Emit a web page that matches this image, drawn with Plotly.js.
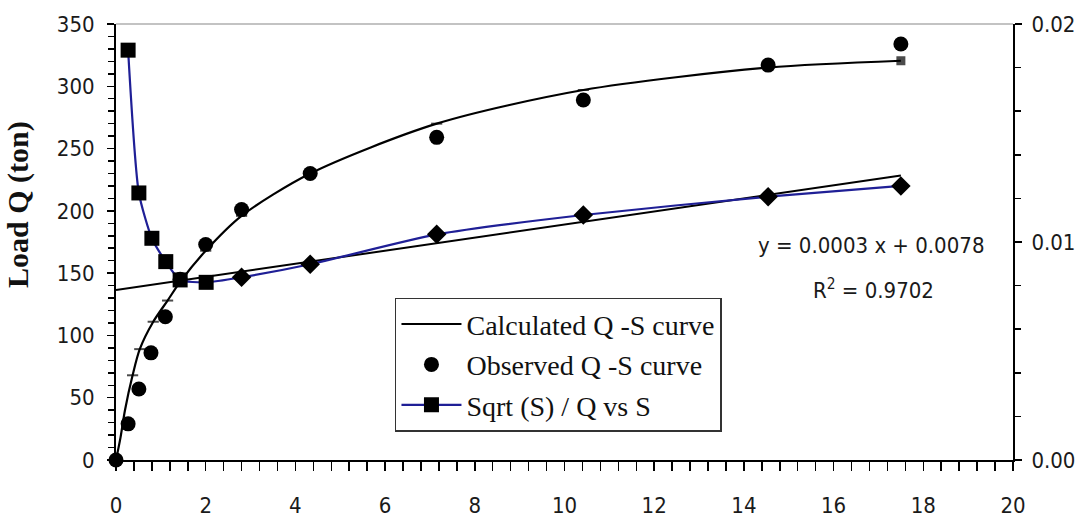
<!DOCTYPE html>
<html>
<head>
<meta charset="utf-8">
<script src="https://cdn.plot.ly/plotly-3.0.1.min.js"></script>
<style>
  html, body { margin: 0; padding: 0; background: #fff; }
  #chart { width: 1083px; height: 520px; }
</style>
</head>
<body>
<div id="chart"></div>
<script>
// ---- Data ----
// Calculated Q-S curve (left axis, ton)
const calcS = [0, 0.1, 0.2, 0.37, 0.53, 0.83, 1.15, 1.43, 2.0, 2.8, 4.33, 7.15, 10.42, 14.54, 17.5];
const calcQ = [0, 18, 40, 68, 89, 111, 128, 143, 168, 196, 230, 270, 297, 315, 320.5];

// Observed Q-S curve (left axis, ton)
const obsS = [0, 0.27, 0.51, 0.78, 1.1, 1.43, 2.0, 2.8, 4.33, 7.15, 10.42, 14.54, 17.5];
const obsQ = [0, 29, 57, 86, 115, 145, 173, 201, 230, 259, 289, 317, 334];

// Sqrt(S)/Q vs S (right axis)
const sqS = [0.27, 0.51, 0.8, 1.11, 1.43, 2.01, 2.8, 4.33, 7.15, 10.42, 14.54, 17.5];
const sqV = [0.0188, 0.01225, 0.01017, 0.0091, 0.00826, 0.00815, 0.00838, 0.00898, 0.01035, 0.01124, 0.01208, 0.01257];
const sqSymbols = ['square','square','square','square','square','square','diamond','diamond','diamond','diamond','diamond','diamond'];

// Linear trendline y = 0.0003 x + 0.0078 (right axis), end points
const trendS = [0, 17.5];
const trendV = [0.0078, 0.01305];

const xTicks = [0, 2, 4, 6, 8, 10, 12, 14, 16, 18, 20];
const yTicks = [0, 50, 100, 150, 200, 250, 300, 350];
const y2Ticks = [0, 0.01, 0.02];
const y2TickText = ['0.00', '0.01', '0.02'];

const legendNames = ['Calculated Q -S curve', 'Observed Q -S curve', 'Sqrt (S) / Q vs S'];
const eqText = 'y = 0.0003 x + 0.0078';
const r2Text = 'R<sup>2</sup> = 0.9702';
const yTitle = 'Load Q (ton)';

// ---- Styling ----
const narrow = '"Liberation Sans Narrow", "Arial Narrow", "DejaVu Sans Condensed", sans-serif';
const serif = '"Liberation Serif", "Times New Roman", serif';
const blue = '#1f1f96';
const tickCol = '#1a1a1a';

const calcSymbols = calcS.map((s, i) => i === calcS.length - 1 ? 'square' : 'line-ew');
const calcSizes = calcS.map((s, i) => (i === 1 || i === 2) ? 0 : (i === calcS.length - 1 ? 7 : 8));

const traces = [
  {
    x: calcS, y: calcQ, name: legendNames[0], type: 'scatter', mode: 'lines+markers',
    line: { color: '#000', width: 2.2, shape: 'spline', smoothing: 0.8 },
    marker: { symbol: calcSymbols, size: calcSizes, color: '#000', line: { color: '#000', width: 2 } },
    legendgroup: 'a', xaxis: 'x', yaxis: 'y'
  },
  {
    x: obsS, y: obsQ, name: legendNames[1], type: 'scatter', mode: 'markers',
    marker: { symbol: 'circle', size: 15, color: '#000' },
    cliponaxis: false, legendgroup: 'b', xaxis: 'x', yaxis: 'y'
  },
  {
    x: trendS, y: trendV, type: 'scatter', mode: 'lines', showlegend: false,
    line: { color: '#000', width: 2 }, xaxis: 'x', yaxis: 'y2', hoverinfo: 'skip'
  },
  {
    x: sqS, y: sqV, name: legendNames[2], type: 'scatter', mode: 'lines+markers',
    line: { color: blue, width: 2.2, shape: 'spline', smoothing: 0.6 },
    marker: { symbol: sqSymbols, size: 15, color: '#000' },
    cliponaxis: false, legendgroup: 'c', xaxis: 'x', yaxis: 'y2'
  }
];

const axisCommon = {
  showgrid: false, zeroline: false,
  showline: true, linecolor: '#000', linewidth: 2,
  tickcolor: '#000', tickwidth: 1.5, ticks: 'outside',
  tickfont: { family: narrow, size: 22, color: tickCol }
};

const layout = {
  width: 1083, height: 520,
  paper_bgcolor: '#fff', plot_bgcolor: '#fff',
  margin: { l: 116, r: 70, t: 24, b: 60 },
  showlegend: true,
  font: { family: narrow, color: tickCol, size: 22 },
  xaxis: Object.assign({}, axisCommon, {
    range: [0, 20], tickvals: xTicks, ticktext: xTicks.map(String),
    ticklen: 9,
    minor: { dtick: 0.4, ticks: 'outside', ticklen: 9, tickwidth: 1.5, tickcolor: '#000', showgrid: false },
    ticklabelstandoff: 16
  }),
  yaxis: Object.assign({}, axisCommon, {
    range: [0, 350], tickvals: yTicks, ticktext: yTicks.map(String),
    ticklen: 7,
    minor: { dtick: 10, ticks: 'outside', ticklen: 6, tickwidth: 1.5, tickcolor: '#000', showgrid: false },
    ticklabelstandoff: 8
  }),
  yaxis2: Object.assign({}, axisCommon, {
    overlaying: 'y', side: 'right',
    range: [0, 0.02], tickvals: y2Ticks, ticktext: y2TickText,
    ticklen: 7,
    minor: { dtick: 0.002, ticks: 'outside', ticklen: 6, tickwidth: 1.5, tickcolor: '#000', showgrid: false },
    ticklabelstandoff: 5
  }),
  legend: {
    x: 0.311, y: 0.372, xanchor: 'left', yanchor: 'top',
    bgcolor: '#fff', bordercolor: '#333', borderwidth: 1.5,
    font: { family: serif, size: 28, color: '#111' },
    traceorder: 'grouped', tracegroupgap: 1, itemwidth: 60
  },
  shapes: [
    { type: 'line', xref: 'paper', yref: 'paper', x0: 0, x1: 1, y0: 1, y1: 1,
      line: { color: '#888', width: 1.2 } }
  ],
  annotations: [
    { text: eqText, xref: 'paper', yref: 'paper', x: (871 - 116) / 897, y: (460 - 245) / 436,
      showarrow: false, xanchor: 'center', yanchor: 'middle',
      font: { family: narrow, size: 22, color: tickCol } },
    { text: r2Text, xref: 'paper', yref: 'paper', x: (873 - 116) / 897, y: (460 - 289) / 436,
      showarrow: false, xanchor: 'center', yanchor: 'middle',
      font: { family: narrow, size: 22, color: tickCol } },
    { text: '<b>' + yTitle + '</b>', xref: 'paper', yref: 'paper', x: (18 - 116) / 897, y: (460 - 205) / 436,
      showarrow: false, xanchor: 'center', yanchor: 'middle', textangle: -90,
      font: { family: serif, size: 30, color: '#111' } }
  ]
};

Plotly.newPlot('chart', traces, layout, { staticPlot: true, displayModeBar: false });
</script>
</body>
</html>
